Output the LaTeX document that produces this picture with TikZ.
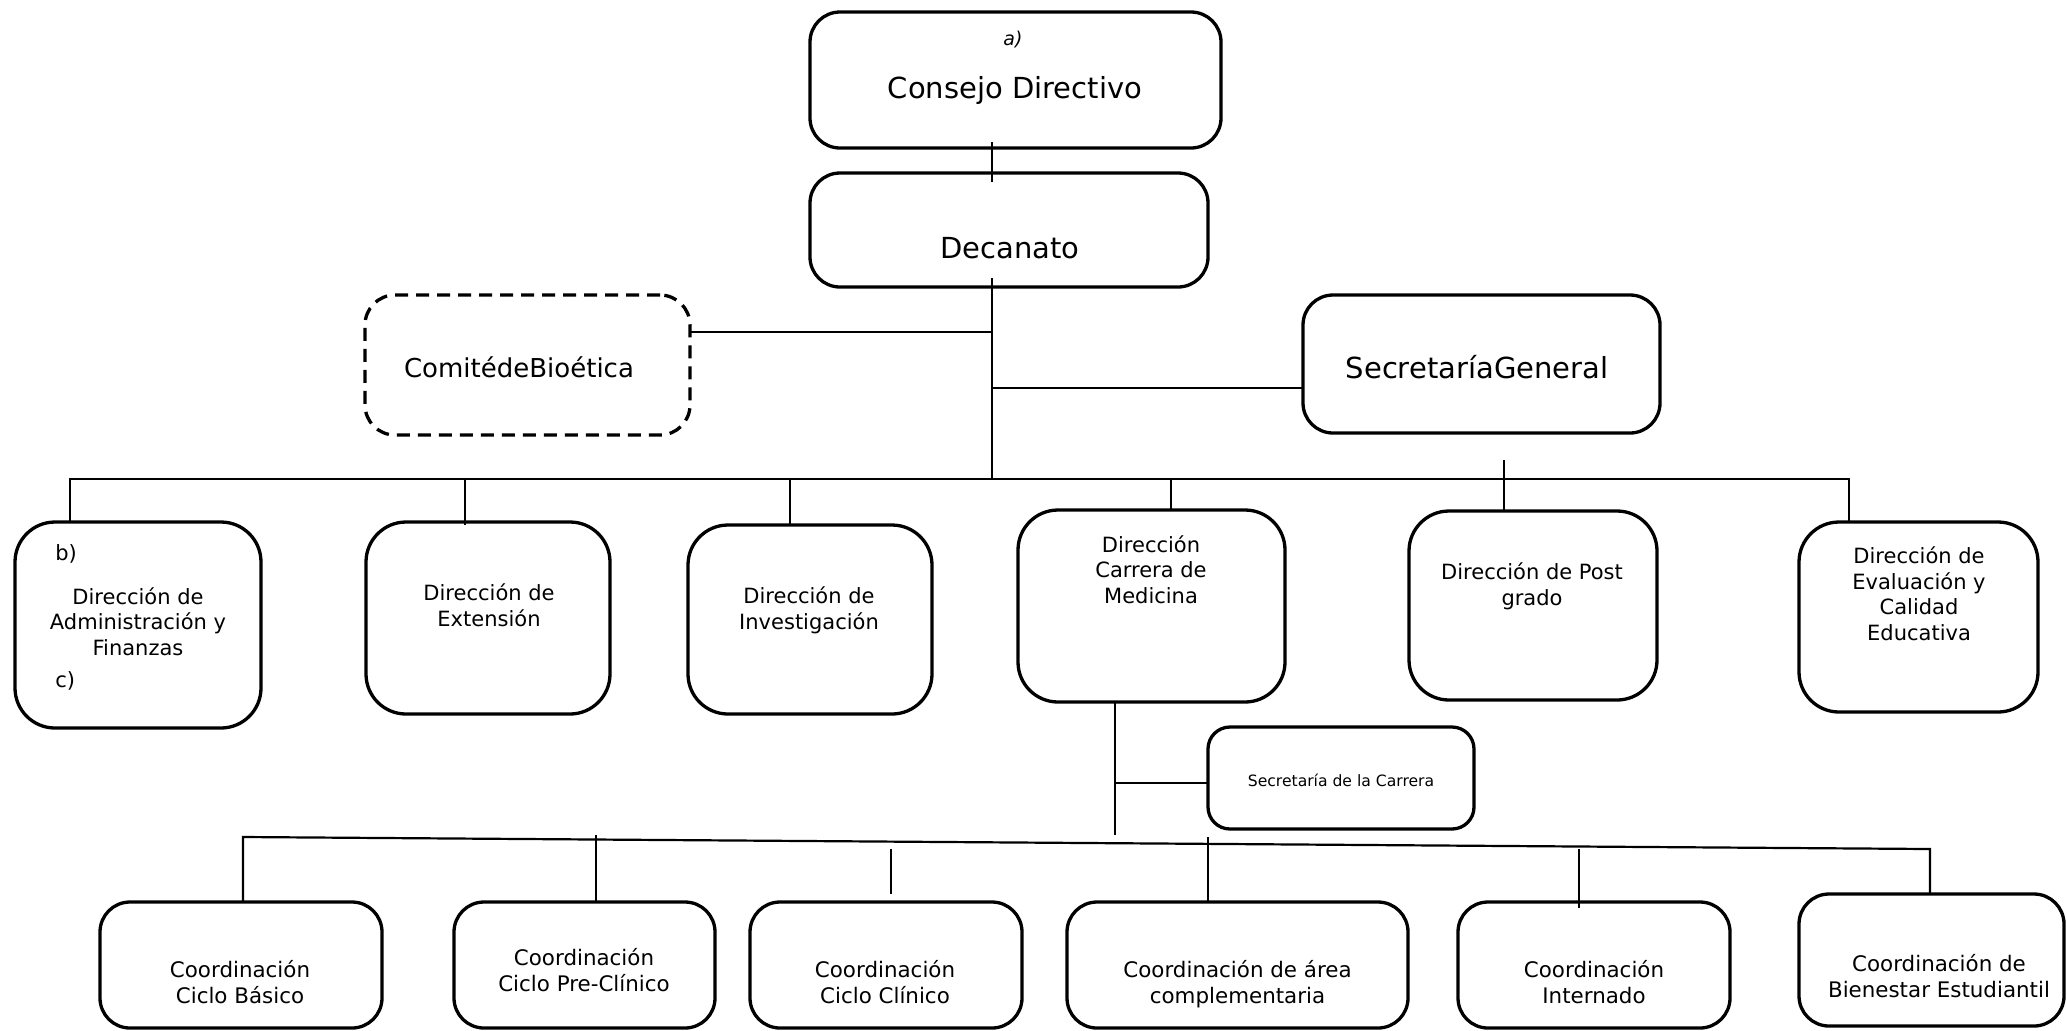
\documentclass[tikz,border=0pt]{standalone}
\usepackage{fontspec}
\setmainfont{DejaVu Sans}
\begin{document}
\begin{tikzpicture}[x=0.5pt,y=-0.5pt,
  box/.style={draw, line width=1.65pt, rounded corners=15pt, inner sep=0pt, outer sep=0pt},
  rowbox/.style={box, rounded corners=20pt},
  dbox/.style={box, dash pattern=on 6.5pt off 4pt},
  conn/.style={line width=0.9pt},
  tbig/.style={anchor=base, inner sep=0pt, font={\fontsize{14.5}{17}\selectfont}},
  tmid/.style={anchor=base, inner sep=0pt, font={\fontsize{13}{16}\selectfont}},
  trow/.style={anchor=base, inner sep=0pt, align=center, font={\fontsize{10.5}{12.75}\selectfont}},
  tbot/.style={anchor=base, inner sep=0pt, align=center, font={\fontsize{10.7}{12.75}\selectfont}},
  tsmall/.style={anchor=base, inner sep=0pt, font={\fontsize{7.8}{9.5}\selectfont}},
  tlab/.style={anchor=base, inner sep=0pt, font={\fontsize{10.5}{12}\selectfont}}
]
\useasboundingbox (0,0) rectangle (2067,1030);

% boxes
\node[box, minimum width=205.5pt, minimum height=68pt] (cd) at (1015.5,80) {};
\node[box, minimum width=199pt, minimum height=57pt] (dec) at (1009,230) {};
\node[dbox, minimum width=162.5pt, minimum height=70pt] (com) at (527.5,365) {};
\node[box, minimum width=178.5pt, minimum height=69pt] (sg) at (1481.5,364) {};

\node[rowbox, minimum width=123pt, minimum height=103pt] (adm) at (138,625) {};
\node[rowbox, minimum width=122pt, minimum height=96pt] (ext) at (488,618) {};
\node[rowbox, minimum width=122pt, minimum height=94.5pt] (inv) at (810,619.5) {};
\node[rowbox, minimum width=133.5pt, minimum height=96pt] (car) at (1151.5,606) {};
\node[rowbox, minimum width=124pt, minimum height=94.5pt] (pos) at (1533,605.5) {};
\node[rowbox, minimum width=119.5pt, minimum height=95pt] (eva) at (1918.5,617) {};

\node[box, rounded corners=11pt, minimum width=133pt, minimum height=51pt] (scar) at (1341,778) {};

\node[box, minimum width=141pt, minimum height=63pt] (bas) at (241,965) {};
\node[box, minimum width=130.5pt, minimum height=63pt] (pre) at (584.5,965) {};
\node[box, minimum width=136pt, minimum height=63pt] (cli) at (886,965) {};
\node[box, minimum width=170.5pt, minimum height=63pt] (are) at (1237.5,965) {};
\node[box, minimum width=136pt, minimum height=63pt] (int) at (1594,965) {};
\node[box, minimum width=132.5pt, minimum height=66pt] (bie) at (1931.5,960) {};

% texts (multi-line nodes: base = last line baseline)
\node[tlab, font={\fontsize{9.5}{11}\selectfont\itshape}] (ta) at (1013,45) {a)};
\node[tbig] (tcd) at (1015,98) {Consejo Directivo};
\node[tbig] (tdec) at (1010,258) {Decanato};
\node[tmid] (tcom) at (519,377) {ComitédeBioética};
\node[tbig] (tsg) at (1477,378) {SecretaríaGeneral};

\node[tlab, anchor=base west] (tb) at (55,560) {b)};
\node[trow] (tadm) at (138,655) {Dirección de\\Administración y\\Finanzas};
\node[tlab, anchor=base west] (tc) at (55,687) {c)};
\node[trow] (text) at (489,626) {Dirección de\\Extensión};
\node[trow] (tinv) at (809,629) {Dirección de\\Investigación};
\node[trow] (tcar) at (1151,603) {Dirección\\Carrera de\\Medicina};
\node[trow] (tpos) at (1532,605) {Dirección de Post\\grado};
\node[trow] (teva) at (1919,640) {Dirección de\\Evaluación y\\Calidad\\Educativa};

\node[tsmall] (tscar) at (1341,786) {Secretaría de la Carrera};

\node[tbot] (tbas) at (240,1003) {Coordinación\\Ciclo Básico};
\node[tbot] (tpre) at (584,991) {Coordinación\\Ciclo Pre-Clínico};
\node[tbot] (tcli) at (885,1003) {Coordinación\\Ciclo Clínico};
\node[tbot] (tare) at (1237.5,1003) {Coordinación de área\\complementaria};
\node[tbot] (tint) at (1594,1003) {Coordinación\\Internado};
\node[tbot] (tbie) at (1939,997) {Coordinación de\\Bienestar Estudiantil};

% connector coordinates
\coordinate (tkx) at (992,0);
\coordinate (bar0) at (992,479);
\coordinate (jc) at (992,332);
\coordinate (js) at (992,388);
\coordinate (barL) at (70,479);
\coordinate (barR) at (1849,479);
\coordinate (d2) at (465,479);
\coordinate (d3) at (790,479);
\coordinate (d4) at (1171,479);
\coordinate (dp) at (1504,460);
\coordinate (cm) at (1115,835);
\coordinate (jm) at (1115,783);
\coordinate (bL) at (243,837);
\coordinate (bR) at (1930,849);
\coordinate (p1) at (596,835);
\coordinate (c1) at (891,849);
\coordinate (c2) at (891,894);
\coordinate (a1) at (1208,837);
\coordinate (i1) at (1579,849);
\coordinate (i2) at (1579,908);

% connectors
\draw[conn] ([yshift=3pt]cd.south -| tkx) -- ([yshift=-4.5pt]dec.north -| tkx);
\draw[conn] ([yshift=4.5pt]dec.south -| tkx) -- (bar0);
\draw[conn] (com.east |- jc) -- (jc);
\draw[conn] (js) -- (sg.west |- js);
\draw[conn] (adm.north -| barL) -- (barL) -- (barR) -- (eva.north -| barR);
\draw[conn] (d2) -- ([yshift=-1.5pt]d2 |- ext.north);
\draw[conn] (d3) -- (d3 |- inv.north);
\draw[conn] (d4) -- (d4 |- car.north);
\draw[conn] (dp) -- (dp |- pos.north);
\draw[conn] (car.south -| cm) -- (cm);
\draw[conn] (jm) -- (scar.west |- jm);
\draw[conn, line width=1.1pt] (bas.north -| bL) -- (bL) -- (bR) -- (bie.north -| bR);
\draw[conn] (p1) -- (p1 |- pre.north);
\draw[conn] (c1) -- (c2);
\draw[conn] (a1) -- (a1 |- are.north);
\draw[conn] (i1) -- (i2);
\end{tikzpicture}
\end{document}
